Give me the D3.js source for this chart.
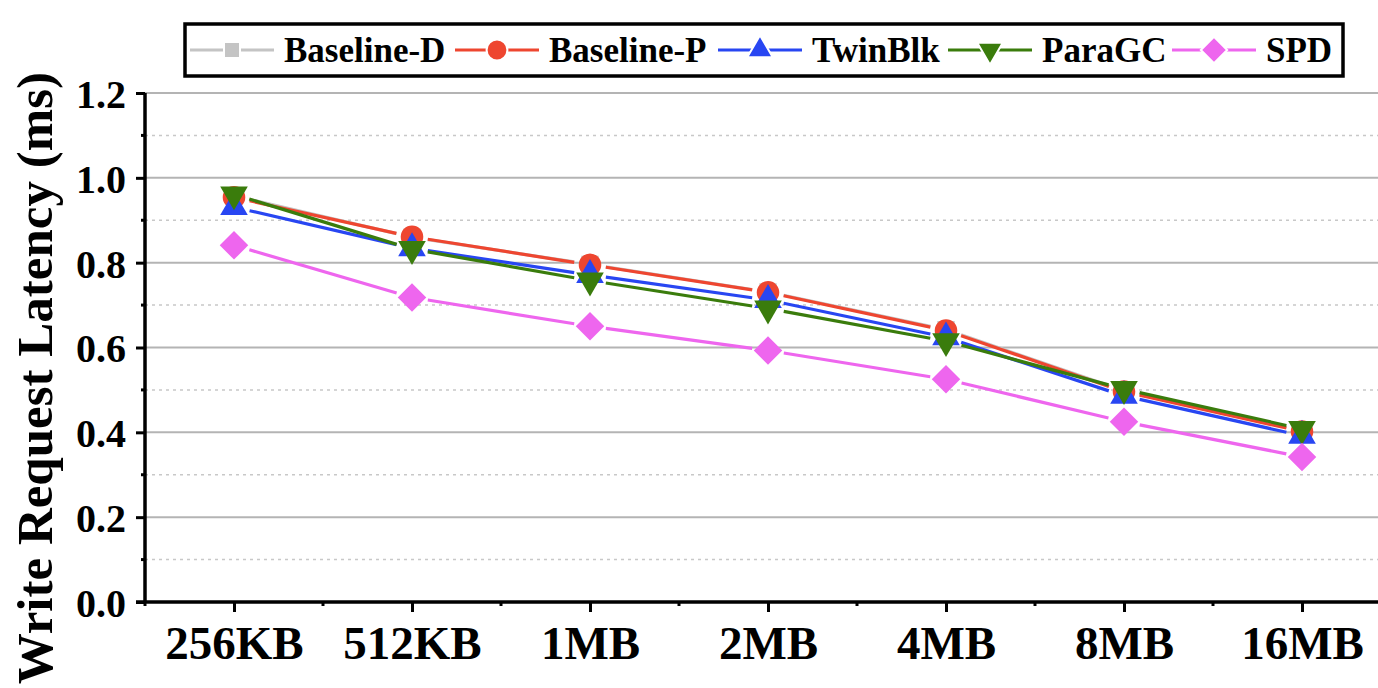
<!DOCTYPE html>
<html>
<head>
<meta charset="utf-8">
<script src="https://cdn.jsdelivr.net/npm/d3@7"></script>
<style>
  body { margin: 0; background: #fff; }
  svg text { font-family: "Liberation Serif", "Times New Roman", serif; font-weight: bold; }
</style>
</head>
<body>
<div id="chart"></div>
<script>
// data
const categories = ["256KB", "512KB", "1MB", "2MB", "4MB", "8MB", "16MB"];
const baselineD = [0.958, 0.860, 0.796, 0.731, 0.642, 0.498, 0.404];
const baselineP = [0.954, 0.861, 0.795, 0.730, 0.640, 0.496, 0.402];
const twinBlk   = [0.931, 0.834, 0.771, 0.712, 0.624, 0.486, 0.392];
const paraGC    = [0.961, 0.832, 0.758, 0.692, 0.615, 0.502, 0.408];
const spd       = [0.841, 0.718, 0.650, 0.593, 0.525, 0.425, 0.342];
const yTicks = [0.0, 0.2, 0.4, 0.6, 0.8, 1.0, 1.2];
const yMinor = [0.1, 0.3, 0.5, 0.7, 0.9, 1.1];

const series = [
  { name: "Baseline-D", values: baselineD, color: "#c4c4c4", symbol: d3.symbolSquare, size: 300, rot: 0 },
  { name: "Baseline-P", values: baselineP, color: "#ee4630", symbol: d3.symbolCircle, size: 400, rot: 0 },
  { name: "TwinBlk",    values: twinBlk,   color: "#2846f2", symbol: d3.symbolTriangle, size: 330, rot: 0 },
  { name: "ParaGC",     values: paraGC,    color: "#3a7c0c", symbol: d3.symbolTriangle, size: 330, rot: 180 },
  { name: "SPD",        values: spd,       color: "#ee66ee", symbol: d3.symbolDiamond2, size: 520, rot: 0 }
];

const width = 1378, height = 688;
const plot = { left: 145, right: 1391, top: 93, bottom: 602 };

const svg = d3.select("#chart").append("svg")
  .attr("width", width)
  .attr("height", height);

const x = d3.scalePoint()
  .domain(categories)
  .range([plot.left, plot.right])
  .padding(0.5);
const y = d3.scaleLinear()
  .domain([0, 1.2])
  .range([plot.bottom, plot.top]);

// grid
svg.append("g").selectAll("line.minor")
  .data(yMinor).enter().append("line")
    .attr("x1", plot.left).attr("x2", width)
    .attr("y1", d => y(d)).attr("y2", d => y(d))
    .attr("stroke", "#c8c8c8")
    .attr("stroke-width", 1.5)
    .attr("stroke-dasharray", "3,4");
svg.append("g").selectAll("line.major")
  .data(yTicks.filter(d => d > 0)).enter().append("line")
    .attr("x1", plot.left).attr("x2", width)
    .attr("y1", d => y(d)).attr("y2", d => y(d))
    .attr("stroke", "#b4b4b4")
    .attr("stroke-width", 2);

// lines with small gaps around the symbols
const gap = 16;
series.forEach(s => {
  const pts = s.values.map((v, i) => [x(categories[i]), y(v)]);
  const segs = d3.pairs(pts).map(([a, b]) => {
    const dx = b[0] - a[0], dy = b[1] - a[1];
    const len = Math.hypot(dx, dy);
    const ux = dx / len, uy = dy / len;
    return [[a[0] + ux * gap, a[1] + uy * gap], [b[0] - ux * gap, b[1] - uy * gap]];
  });
  const g = svg.append("g");
  g.selectAll("path.seg")
    .data(segs).enter().append("path")
      .attr("d", d => d3.line()(d))
      .attr("fill", "none")
      .attr("stroke", s.color)
      .attr("stroke-width", 3.2);
  g.selectAll("path.sym")
    .data(s.values).enter().append("path")
      .attr("d", d3.symbol().type(s.symbol).size(s.size))
      .attr("transform", (d, i) => `translate(${x(categories[i])},${y(d)}) rotate(${s.rot})`)
      .attr("fill", s.color);
});

// axes
const yAxis = svg.append("g")
  .attr("transform", `translate(${plot.left},0)`)
  .call(d3.axisLeft(y).tickValues(yTicks).tickFormat(d3.format(".1f")).tickSize(9).tickPadding(10));
yAxis.select(".domain").attr("stroke-width", 3.5).attr("d", `M0,${plot.top}V${plot.bottom}`);
yAxis.selectAll(".tick line").attr("stroke-width", 3);
yAxis.selectAll(".tick text")
  .attr("font-size", 40)
  .attr("fill", "#000")
  .attr("dy", "0.36em");
svg.append("g").selectAll("line")
  .data(yMinor).enter().append("line")
    .attr("x1", plot.left - 4).attr("x2", plot.left)
    .attr("y1", d => y(d)).attr("y2", d => y(d))
    .attr("stroke", "#000").attr("stroke-width", 3);

const xAxis = svg.append("g")
  .attr("transform", `translate(0,${plot.bottom})`)
  .call(d3.axisBottom(x).tickSize(10).tickPadding(12));
xAxis.select(".domain").attr("stroke-width", 3.5).attr("d", `M${plot.left - 9},0H${width}`);
xAxis.selectAll(".tick line").attr("stroke-width", 3);
xAxis.selectAll(".tick text")
  .attr("font-size", 47)
  .attr("fill", "#000")
  .attr("dy", "0.75em");
svg.append("g").selectAll("line")
  .data(categories.map((c, i) => plot.left + x.step() * i)).enter().append("line")
    .attr("x1", d => d).attr("x2", d => d)
    .attr("y1", plot.bottom).attr("y2", plot.bottom + 4)
    .attr("stroke", "#000").attr("stroke-width", 3);

// y title
svg.append("text")
  .attr("transform", "translate(52,72) rotate(-90)")
  .attr("text-anchor", "end")
  .attr("font-size", 51)
  .text("Write Request Latency (ms)");

// legend
const legend = svg.append("g");
legend.append("rect")
  .attr("x", 185).attr("y", 24)
  .attr("width", 1158).attr("height", 52)
  .attr("fill", "#fff")
  .attr("stroke", "#000")
  .attr("stroke-width", 3.5);
const legendX = [190, 455, 718, 948, 1172];
series.forEach((s, i) => {
  const g = legend.append("g").attr("transform", `translate(${legendX[i]},50)`);
  g.append("line")
    .attr("x1", 0).attr("x2", 84)
    .attr("stroke", s.color).attr("stroke-width", 3);
  g.append("path")
    .attr("d", d3.symbol().type(s.symbol).size(s.size * 0.85))
    .attr("transform", `translate(42,0) rotate(${s.rot})`)
    .attr("fill", s.color)
    .attr("stroke", "#fff").attr("stroke-width", 2);
  g.append("text")
    .attr("x", 94)
    .attr("y", 12)
    .attr("font-size", 35)
    .text(s.name);
});
</script>
</body>
</html>
